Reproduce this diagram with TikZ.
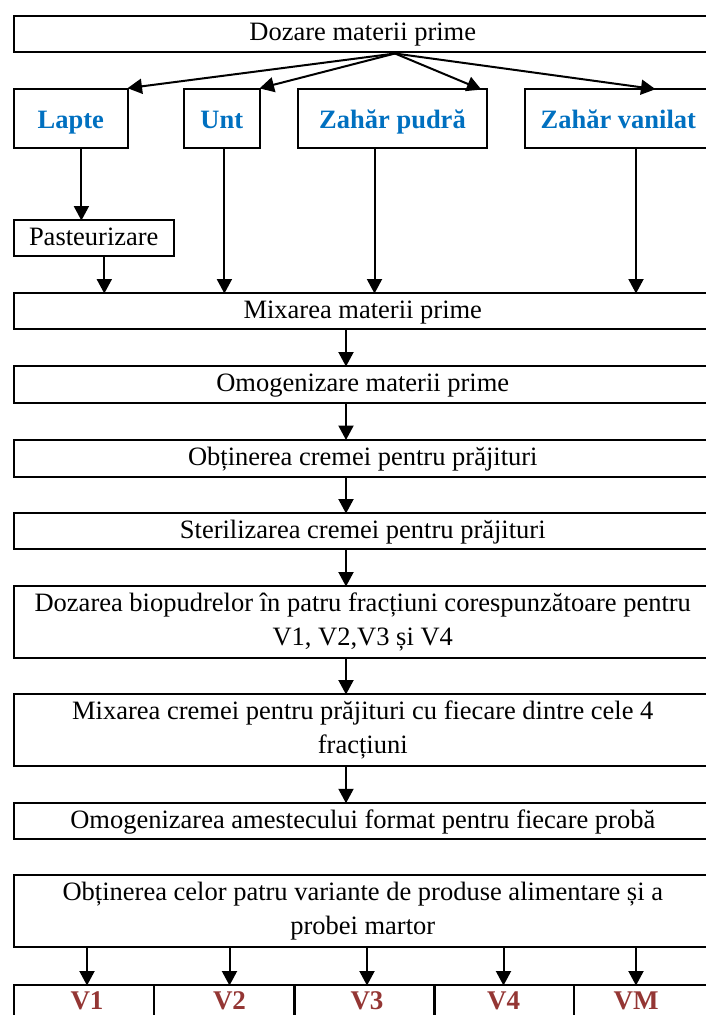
\documentclass[tikz,border=0pt]{standalone}
\usepackage{fontspec}
\setmainfont{Liberation Serif}
\usetikzlibrary{arrows.meta}
\definecolor{ingblue}{HTML}{0070C0}
\definecolor{vred}{HTML}{943634}
\begin{document}
\begin{tikzpicture}[x=1pt,y=-1pt,
  txt/.style={font=\fontsize{26.5}{34}\selectfont},
  box/.style={draw, line width=2pt, inner sep=0pt, align=center, txt},
  one/.style={text height=20pt, text depth=6pt},
  wide/.style={box, minimum width=698.5pt},
  ing/.style={box, font=\fontsize{26.5}{34}\selectfont\bfseries, text=ingblue, minimum height=59pt, text height=19pt, text depth=0pt},
  vbox/.style={draw, line width=2pt, minimum width=140.5pt, minimum height=35pt, inner sep=0pt},
  vlab/.style={inner sep=0pt, font=\fontsize{27}{34}\selectfont\bfseries, text=vred},
  arr/.style={line width=2pt, shorten >=-1.5pt, -{Triangle[length=14.5pt,width=15pt]}}]
\useasboundingbox (0,0) rectangle (705,1015);

% top
\node[wide, one, minimum height=36pt] (dozare) at (362.75,33.7) {Dozare materii prime};
\node[ing, minimum width=114.5pt] (lapte) at (70.75,118.5) {Lapte};
\node[ing, minimum width=76.5pt] (unt) at (221.75,118.5) {Unt};
\node[ing, minimum width=189pt] (pudra) at (392.5,118.5) {Zahăr pudră};
\node[ing, minimum width=187.3pt] (vanilat) at (618.35,118.5) {Zahăr vanilat};
\node[box, one, minimum width=160.5pt, minimum height=36pt] (pasteur) at (93.75,238) {Pasteurizare};

\coordinate (src) at (395,53.5);
\coordinate (tpudra) at (480,89);
\coordinate (tvan) at (654,89);
\draw[arr] (src) -- (lapte.north east);
\draw[arr] (src) -- (unt.north east);
\draw[arr] (src) -- (tpudra);
\draw[arr] (src) -- (tvan);

% main column
\node[wide, one, minimum height=36pt] (mix1) at (362.75,311) {Mixarea materii prime};
\node[wide, one, minimum height=37pt] (omog) at (362.75,384.5) {Omogenizare materii prime};
\node[wide, one, minimum height=37pt] (obt) at (362.75,458) {Obținerea cremei pentru prăjituri};
\node[wide, one, minimum height=36pt] (steril) at (362.75,531) {Sterilizarea cremei pentru prăjituri};
\node[wide, minimum height=72pt] (dozb) at (362.75,622) {Dozarea biopudrelor în patru fracțiuni corespunzătoare pentru\\V1, V2,V3 și V4};
\node[wide, minimum height=72pt] (mixc) at (362.75,730) {Mixarea cremei pentru prăjituri cu fiecare dintre cele 4\\fracțiuni};
\node[wide, one, minimum height=36.5pt] (omogam) at (362.75,821) {Omogenizarea amestecului format pentru fiecare probă};
\node[wide, minimum height=72.5pt] (obtcel) at (362.75,911) {Obținerea celor patru variante de produse alimentare și a\\probei martor};

% vertical arrows in the top part
\coordinate (xl) at (81.4,0);
\coordinate (xp) at (104.3,0);
\coordinate (xu) at (224.4,0);
\coordinate (xz) at (374.5,0);
\coordinate (xv) at (636,0);
\draw[arr] (lapte.south -| xl) -- (pasteur.north -| xl);
\draw[arr] (pasteur.south -| xp) -- (mix1.north -| xp);
\draw[arr] (unt.south -| xu) -- (mix1.north -| xu);
\draw[arr] (pudra.south -| xz) -- (mix1.north -| xz);
\draw[arr] (vanilat.south -| xv) -- (mix1.north -| xv);

% central arrows
\coordinate (xm) at (346,0);
\draw[arr] (mix1.south -| xm) -- (omog.north -| xm);
\draw[arr] (omog.south -| xm) -- (obt.north -| xm);
\draw[arr] (obt.south -| xm) -- (steril.north -| xm);
\draw[arr] (steril.south -| xm) -- (dozb.north -| xm);
\draw[arr] (dozb.south -| xm) -- (mixc.north -| xm);
\draw[arr] (mixc.south -| xm) -- (omogam.north -| xm);

% bottom row
\node[vbox] (v1) at (83.75,1002.5) {};
\node[vbox] (v2) at (224.25,1002.5) {};
\node[vbox] (v3) at (364.25,1002.5) {};
\node[vbox] (v4) at (504,1002.5) {};
\node[vbox] (vm) at (644,1002.5) {};
\node[vlab] (l1) at (87,1001) {V1};
\node[vlab] (l2) at (229.5,1001) {V2};
\node[vlab] (l3) at (367,1001) {V3};
\node[vlab] (l4) at (503.5,1001) {V4};
\node[vlab] (lm) at (636,1001) {VM};
\foreach \b/\l in {v1/l1, v2/l2, v3/l3, v4/l4, vm/lm}
  \draw[arr] (obtcel.south -| \l) -- (\b.north -| \l);
\end{tikzpicture}
\end{document}
